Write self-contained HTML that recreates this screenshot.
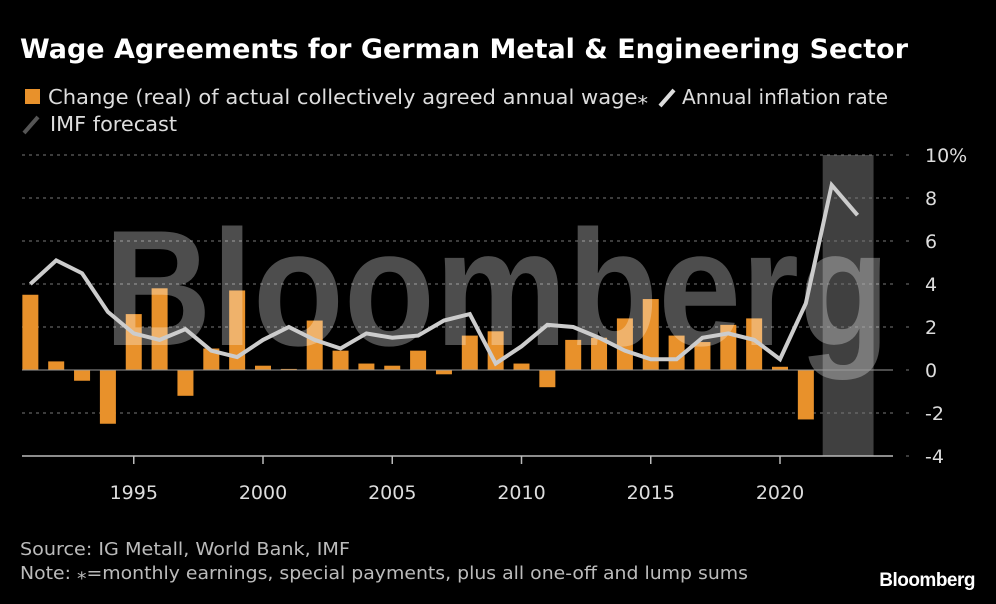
<!DOCTYPE html>
<html><head><meta charset="utf-8"><style>
body{margin:0;background:#000;width:996px;height:600px;overflow:hidden;font-family:"DejaVu Sans","Liberation Sans",sans-serif}
</style></head><body>
<svg width="996" height="600" xmlns="http://www.w3.org/2000/svg">
<text x="20" y="58" fill="#fff" font-size="27" font-weight="bold" font-family="DejaVu Sans, sans-serif" textLength="888" lengthAdjust="spacingAndGlyphs">Wage Agreements for German Metal &amp; Engineering Sector</text>
<g font-size="20" fill="#ddd">
<rect x="25" y="89" width="15" height="15" fill="#e8912b"/>
<text x="48" y="104" textLength="600" lengthAdjust="spacingAndGlyphs">Change (real) of actual collectively agreed annual wage⁎</text>
<line x1="660" y1="106" x2="674" y2="90" stroke="#ddd" stroke-width="4"/>
<text x="682" y="104" textLength="206" lengthAdjust="spacingAndGlyphs">Annual inflation rate</text>
<line x1="24" y1="133" x2="38" y2="117" stroke="#555" stroke-width="4"/>
<text x="50" y="131" textLength="127" lengthAdjust="spacingAndGlyphs">IMF forecast</text>
</g>
<g id="plot"></g>
<text x="20" y="555" fill="#bbb" font-size="18" textLength="330" lengthAdjust="spacingAndGlyphs">Source: IG Metall, World Bank, IMF</text>
<text x="20" y="579" fill="#bbb" font-size="18" textLength="728" lengthAdjust="spacingAndGlyphs">Note: ⁎=monthly earnings, special payments, plus all one-off and lump sums</text>
<text x="975" y="586" fill="#fff" font-size="19" font-weight="bold" text-anchor="end" font-family="Liberation Sans, sans-serif" letter-spacing="-0.5">Bloomberg</text>
</svg>
<script>
const barYears=[1991,1992,1993,1994,1995,1996,1997,1998,1999,2000,2001,2002,2003,2004,2005,2006,2007,2008,2009,2010,2011,2012,2013,2014,2015,2016,2017,2018,2019,2020,2021];
const wageValues=[3.5,0.4,-0.5,-2.5,2.6,3.8,-1.2,1.0,3.7,0.2,0.05,2.3,0.9,0.3,0.2,0.9,-0.2,1.6,1.8,0.3,-0.8,1.4,1.5,2.4,3.3,1.6,1.3,2.1,2.4,0.15,-2.3];
const lineYears=[1991,1992,1993,1994,1995,1996,1997,1998,1999,2000,2001,2002,2003,2004,2005,2006,2007,2008,2009,2010,2011,2012,2013,2014,2015,2016,2017,2018,2019,2020,2021,2022,2023];
const inflationValues=[4.0,5.1,4.5,2.7,1.7,1.4,1.9,0.9,0.6,1.4,2.0,1.4,1.0,1.7,1.5,1.6,2.3,2.6,0.3,1.1,2.1,2.0,1.5,0.9,0.5,0.5,1.5,1.7,1.4,0.5,3.1,8.6,7.2];
const yTicks=[10,8,6,4,2,0,-2,-4];
const yTickLabels=["10%","8","6","4","2","0","-2","-4"];
const xTicks=[1995,2000,2005,2010,2015,2020];
const forecastStart=2022, forecastEnd=2023;

const NS="http://www.w3.org/2000/svg";
const plot=document.getElementById('plot');
const x=yr=>263+(yr-2000)*25.85;
const y=v=>370-v*21.5;
function mk(tag,attrs){const e=document.createElementNS(NS,tag);for(const k in attrs)e.setAttribute(k,attrs[k]);plot.appendChild(e);return e;}

// forecast shading
let sh=mk('rect',{x:x(forecastStart)-9,y:y(10),width:x(forecastEnd)-x(forecastStart)+25,height:y(-4)-y(10),fill:'#555','fill-opacity':'0.75'});



// gridlines & y labels
yTicks.forEach((t,i)=>{
  if(t!==0&&t!==-4){
    let g=mk('line',{x1:22,x2:893,y1:y(t),y2:y(t),stroke:'#777','stroke-dasharray':'3,4','stroke-width':1});
    
    
  }
  let d=mk('line',{x1:906,x2:909,y1:y(t),y2:y(t),stroke:'#777','stroke-width':1});
  
  
  let l=mk('text',{x:925,y:y(t)+7,fill:'#ddd','font-size':'19'});
  l.textContent=yTickLabels[i];
  
  
});

// bars
barYears.forEach((yr,i)=>{
  const v=wageValues[i];
  let b=mk('rect',{x:x(yr)-8,y:Math.min(y(v),y(0)),width:16,height:Math.abs(y(v)-y(0)),fill:'#e8912b'});
  
  
});

// watermark
let wm=mk('text',{x:104,y:345,fill:'#fff','fill-opacity':'0.3','font-size':'165','font-weight':'bold','font-family':'Liberation Sans, sans-serif',textLength:786,lengthAdjust:'spacingAndGlyphs'});
wm.textContent='Bloomberg';



// zero line & x axis
let z=mk('line',{x1:22,x2:893,y1:y(0),y2:y(0),stroke:'#999','stroke-width':1});


let ax=mk('line',{x1:22,x2:893,y1:y(-4),y2:y(-4),stroke:'#bbb','stroke-width':1.5});


xTicks.forEach(t=>{
  let tk=mk('line',{x1:x(t),x2:x(t),y1:y(-4),y2:y(-4)+8,stroke:'#bbb','stroke-width':1.5});
  
  
  let l=mk('text',{x:x(t),y:499,fill:'#ddd','font-size':'19','text-anchor':'middle'});
  l.textContent=t;
  
  
});

// inflation line
let p=mk('polyline',{points:lineYears.map((yr,i)=>x(yr)+','+y(inflationValues[i])).join(' '),fill:'none',stroke:'#ccc','stroke-width':4,'stroke-linejoin':'miter'});


</script>
</body></html>
